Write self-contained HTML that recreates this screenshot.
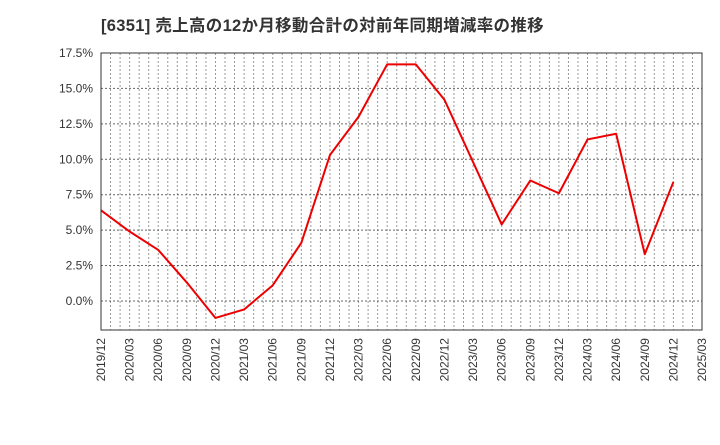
<!DOCTYPE html>
<html><head><meta charset="utf-8"><style>
body{margin:0;background:#fff;}
svg text{font-family:"Liberation Sans","Noto Sans CJK JP",sans-serif;fill:#333;}
</style></head><body>
<svg id="chart" width="720" height="440" xmlns="http://www.w3.org/2000/svg">
<text x="101" y="31" font-size="16.5" font-weight="bold" letter-spacing="0.3">[6351]  売上高の12か月移動合計の対前年同期増減率の推移</text>
<g id="grid"></g><g id="axes"></g><g id="series"></g>
<rect x="101" y="53" width="601" height="277" fill="none" stroke="#333" stroke-width="1"/>
</svg>
<script>
const categories=["2019/12","2020/03","2020/06","2020/09","2020/12","2021/03","2021/06","2021/09","2021/12","2022/03","2022/06","2022/09","2022/12","2023/03","2023/06","2023/09","2023/12","2024/03","2024/06","2024/09","2024/12","2025/03"];
const values=[6.4,4.9,3.6,1.3,-1.2,-0.6,1.1,4.1,10.3,13.0,16.7,16.7,14.2,9.8,5.4,8.5,7.6,11.4,11.8,3.3,8.4];
const yTicks=[0,2.5,5,7.5,10,12.5,15,17.5];
const yTickLabels=["0.0%","2.5%","5.0%","7.5%","10.0%","12.5%","15.0%","17.5%"];
const L=101,R=702,T=53,B=330,yMin=-2.05,yMax=17.5;
const NS="http://www.w3.org/2000/svg";
const x=i=>L+(R-L)*i/(categories.length-1);
const y=v=>B-(v-yMin)/(yMax-yMin)*(B-T);
function mk(tag,attrs,parent){const e=document.createElementNS(NS,tag);for(const k in attrs)e.setAttribute(k,attrs[k]);document.getElementById(parent).appendChild(e);return e;}
const months=(categories.length-1)*3;
for(let m=1;m<months;m++){const xx=L+(R-L)*m/months;
const g=mk("line",{x1:xx,x2:xx,y1:T,y2:B,stroke:"#999","stroke-dasharray":"2,2","stroke-width":1},"grid");

}
yTicks.forEach((v,i)=>{const yy=y(v);
const g=mk("line",{x1:L,x2:R,y1:yy,y2:yy,stroke:"#666","stroke-dasharray":"2,2","stroke-width":1},"grid");


const t=mk("text",{x:L-8,y:yy+4,"text-anchor":"end","font-size":"12"},"axes");t.textContent=yTickLabels[i];

});
categories.forEach((c,i)=>{const xx=x(i);
const t=mk("text",{x:0,y:0,"text-anchor":"end","font-size":"12",transform:`translate(${xx+4},${B+8}) rotate(-90)`},"axes");t.textContent=c;

});
const p=mk("polyline",{points:values.map((v,i)=>x(i)+","+y(v)).join(" "),fill:"none",stroke:"#ee0000","stroke-width":2,"stroke-linejoin":"round"},"series");


</script>
</body></html>
